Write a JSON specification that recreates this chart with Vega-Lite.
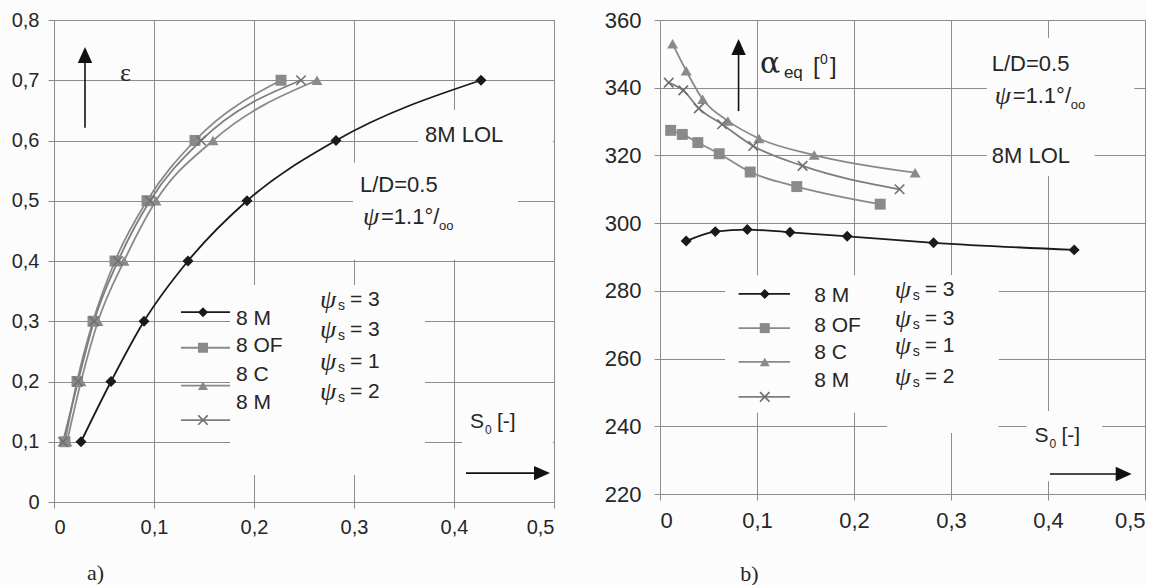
{
  "$schema": "https://vega.github.io/schema/vega-lite/v6.json",
  "background": "#fcfcfc",
  "padding": {"left": 10, "top": 8, "right": 0, "bottom": 0},
  "bounds": "flush",
  "spacing": 106,
  "config": {
    "view": {"stroke": "#8c8c8c", "strokeWidth": 1},
    "axis": {
      "grid": true, "gridColor": "#8c8c8c", "gridWidth": 1, "domain": false,
      "tickColor": "#8c8c8c", "tickSize": 6, "labelFont": "Liberation Sans", "labelColor": "#262626",
      "titleFont": "Liberation Serif", "titleFontWeight": "normal", "titleColor": "#262626", "titleFontSize": 22
    },
    "text": {"font": "Liberation Sans", "color": "#262626", "align": "left", "baseline": "middle"}
  },
  "datasets": {
    "curves": [
      {"series": "8 M ψs=3", "S0": 0.027, "eps": 0.1, "alpha": 294.7},
      {"series": "8 M ψs=3", "S0": 0.057, "eps": 0.2, "alpha": 297.5},
      {"series": "8 M ψs=3", "S0": 0.090, "eps": 0.3, "alpha": 298.1},
      {"series": "8 M ψs=3", "S0": 0.134, "eps": 0.4, "alpha": 297.3},
      {"series": "8 M ψs=3", "S0": 0.193, "eps": 0.5, "alpha": 296.1},
      {"series": "8 M ψs=3", "S0": 0.282, "eps": 0.6, "alpha": 294.2},
      {"series": "8 M ψs=3", "S0": 0.427, "eps": 0.7, "alpha": 292.1},
      {"series": "8 OF ψs=3", "S0": 0.011, "eps": 0.1, "alpha": 327.4},
      {"series": "8 OF ψs=3", "S0": 0.023, "eps": 0.2, "alpha": 326.2},
      {"series": "8 OF ψs=3", "S0": 0.039, "eps": 0.3, "alpha": 323.8},
      {"series": "8 OF ψs=3", "S0": 0.061, "eps": 0.4, "alpha": 320.5},
      {"series": "8 OF ψs=3", "S0": 0.093, "eps": 0.5, "alpha": 315.1},
      {"series": "8 OF ψs=3", "S0": 0.141, "eps": 0.6, "alpha": 310.8},
      {"series": "8 OF ψs=3", "S0": 0.227, "eps": 0.7, "alpha": 305.6},
      {"series": "8 C ψs=1", "S0": 0.013, "eps": 0.1, "alpha": 353.0},
      {"series": "8 C ψs=1", "S0": 0.027, "eps": 0.2, "alpha": 345.0},
      {"series": "8 C ψs=1", "S0": 0.044, "eps": 0.3, "alpha": 336.6},
      {"series": "8 C ψs=1", "S0": 0.070, "eps": 0.4, "alpha": 330.2},
      {"series": "8 C ψs=1", "S0": 0.102, "eps": 0.5, "alpha": 325.0},
      {"series": "8 C ψs=1", "S0": 0.159, "eps": 0.6, "alpha": 320.1},
      {"series": "8 C ψs=1", "S0": 0.263, "eps": 0.7, "alpha": 314.9},
      {"series": "8 M ψs=2", "S0": 0.009, "eps": 0.1, "alpha": 341.5},
      {"series": "8 M ψs=2", "S0": 0.024, "eps": 0.2, "alpha": 339.2},
      {"series": "8 M ψs=2", "S0": 0.040, "eps": 0.3, "alpha": 333.9},
      {"series": "8 M ψs=2", "S0": 0.064, "eps": 0.4, "alpha": 329.2},
      {"series": "8 M ψs=2", "S0": 0.096, "eps": 0.5, "alpha": 322.8},
      {"series": "8 M ψs=2", "S0": 0.147, "eps": 0.6, "alpha": 316.9},
      {"series": "8 M ψs=2", "S0": 0.247, "eps": 0.7, "alpha": 310.0}
    ],
    "legendA": [
      {"series": "8 M ψs=3", "name": "8 M", "psi": "= 3", "x0": 0.127, "x1": 0.176, "xs": 0.149, "y": 0.315, "ly": 0.304, "py": 0.335},
      {"series": "8 OF ψs=3", "name": "8 OF", "psi": "= 3", "x0": 0.127, "x1": 0.176, "xs": 0.149, "y": 0.256, "ly": 0.259, "py": 0.285},
      {"series": "8 C ψs=1", "name": "8 C", "psi": "= 1", "x0": 0.127, "x1": 0.176, "xs": 0.149, "y": 0.193, "ly": 0.211, "py": 0.232},
      {"series": "8 M ψs=2", "name": "8 M", "psi": "= 2", "x0": 0.127, "x1": 0.176, "xs": 0.149, "y": 0.136, "ly": 0.164, "py": 0.183}
    ],
    "legendB": [
      {"series": "8 M ψs=3", "name": "8 M", "psi": "= 3", "x0": 0.081, "x1": 0.134, "xs": 0.108, "y": 279.1, "ly": 278.5, "py": 280.3},
      {"series": "8 OF ψs=3", "name": "8 OF", "psi": "= 3", "x0": 0.081, "x1": 0.134, "xs": 0.108, "y": 269.0, "ly": 269.6, "py": 271.7},
      {"series": "8 C ψs=1", "name": "8 C", "psi": "= 1", "x0": 0.081, "x1": 0.134, "xs": 0.108, "y": 259.0, "ly": 261.7, "py": 263.7},
      {"series": "8 M ψs=2", "name": "8 M", "psi": "= 2", "x0": 0.081, "x1": 0.134, "xs": 0.108, "y": 248.7, "ly": 253.4, "py": 254.6}
    ],
    "boxesA": [
      {"x0": 0.176, "x1": 0.371, "y0": 0.360, "y1": 0.045},
      {"x0": 0.364, "x1": 0.499, "y0": 0.651, "y1": 0.559},
      {"x0": 0.299, "x1": 0.464, "y0": 0.563, "y1": 0.402},
      {"x0": 0.408, "x1": 0.499, "y0": 0.169, "y1": 0.020}
    ],
    "boxesB": [
      {"x0": 0.067, "x1": 0.349, "y0": 284.6, "y1": 244.0},
      {"x0": 0.234, "x1": 0.349, "y0": 284.6, "y1": 238.0},
      {"x0": 0.337, "x1": 0.489, "y0": 354.7, "y1": 333.0},
      {"x0": 0.337, "x1": 0.448, "y0": 333.0, "y1": 313.9},
      {"x0": 0.378, "x1": 0.456, "y0": 244.5, "y1": 223.8}
    ]
  },
  "hconcat": [
    {
      "width": 500,
      "height": 482,
      "data": {"values": [{}]},
      "layer": [
        {
          "data": {"name": "boxesA"},
          "mark": {"type": "rect", "fill": "#fcfcfc", "strokeWidth": 0},
          "encoding": {
            "x": {"field": "x0", "type": "quantitative", "scale": {"domain": [0, 0.5], "nice": false},
                  "axis": {"values": [0, 0.1, 0.2, 0.3, 0.4, 0.5], "labelFontSize": 20, "labelPadding": 9,
                           "labelExpr": "datum.value == 0 ? '0' : replace(format(datum.value, '.1f'), '.', ',')",
                           "title": "a)", "titleX": 41, "titleY": 70, "titleAlign": "center", "titleBaseline": "middle"}},
            "x2": {"field": "x1"},
            "y": {"field": "y0", "type": "quantitative", "scale": {"domain": [0, 0.8], "nice": false},
                  "axis": {"values": [0, 0.1, 0.2, 0.3, 0.4, 0.5, 0.6, 0.7, 0.8], "labelFontSize": 20, "labelPadding": 9,
                           "labelExpr": "datum.value == 0 ? '0' : replace(format(datum.value, '.1f'), '.', ',')",
                           "title": null}},
            "y2": {"field": "y1"}
          }
        },
        {
          "data": {"name": "curves"},
          "mark": {"type": "line", "interpolate": "monotone", "strokeWidth": 1.8},
          "encoding": {
            "x": {"field": "S0", "type": "quantitative"},
            "y": {"field": "eps", "type": "quantitative"},
            "color": {"field": "series", "type": "nominal", "legend": null,
                      "scale": {"domain": ["8 M ψs=3", "8 OF ψs=3", "8 C ψs=1", "8 M ψs=2"], "range": ["#1a1a1a", "#8a8a8a", "#8a8a8a", "#7d7d7d"]}},
            "order": {"field": "eps", "type": "quantitative"}
          }
        },
        {
          "data": {"name": "legendA"},
          "mark": {"type": "rule", "strokeWidth": 1.8},
          "encoding": {
            "x": {"field": "x0", "type": "quantitative"},
            "x2": {"field": "x1"},
            "y": {"field": "y", "type": "quantitative"},
            "color": {"field": "series", "type": "nominal", "legend": null}
          }
        },
        {
          "data": {"name": "curves"},
          "transform": [{"filter": "datum.series != '8 M ψs=2'"}],
          "mark": {"type": "point", "filled": true, "size": 120, "opacity": 1},
          "encoding": {
            "x": {"field": "S0", "type": "quantitative"},
            "y": {"field": "eps", "type": "quantitative"},
            "color": {"field": "series", "type": "nominal", "legend": null},
            "shape": {"field": "series", "type": "nominal", "legend": null,
                      "scale": {"domain": ["8 M ψs=3", "8 OF ψs=3", "8 C ψs=1", "8 M ψs=2"], "range": ["diamond", "square", "triangle-up", "M-1,-1L1,1M-1,1L1,-1"]}}
          }
        },
        {
          "data": {"name": "curves"},
          "transform": [{"filter": "datum.series == '8 M ψs=2'"}],
          "mark": {"type": "point", "filled": false, "size": 90, "strokeWidth": 1.6, "opacity": 1, "shape": "M-1,-1L1,1M-1,1L1,-1", "color": "#6f6f6f"},
          "encoding": {
            "x": {"field": "S0", "type": "quantitative"},
            "y": {"field": "eps", "type": "quantitative"}
          }
        },
        {
          "data": {"name": "legendA"},
          "transform": [{"filter": "datum.series != '8 M ψs=2'"}],
          "mark": {"type": "point", "filled": true, "size": 100, "opacity": 1},
          "encoding": {
            "x": {"field": "xs", "type": "quantitative"},
            "y": {"field": "y", "type": "quantitative"},
            "color": {"field": "series", "type": "nominal", "legend": null},
            "shape": {"field": "series", "type": "nominal", "legend": null}
          }
        },
        {
          "data": {"name": "legendA"},
          "transform": [{"filter": "datum.series == '8 M ψs=2'"}],
          "mark": {"type": "point", "filled": false, "size": 90, "strokeWidth": 1.6, "opacity": 1, "shape": "M-1,-1L1,1M-1,1L1,-1", "color": "#6f6f6f"},
          "encoding": {
            "x": {"field": "xs", "type": "quantitative"},
            "y": {"field": "y", "type": "quantitative"}
          }
        },
        {
          "data": {"name": "legendA"},
          "mark": {"type": "text", "fontSize": 21},
          "encoding": {
            "x": {"datum": 0.182},
            "y": {"field": "ly", "type": "quantitative"},
            "text": {"field": "name"}
          }
        },
        {
          "data": {"name": "legendA"},
          "mark": {"type": "text", "text": "ψ", "font": "Liberation Serif", "fontStyle": "italic", "fontSize": 26},
          "encoding": {"x": {"datum": 0.266}, "y": {"field": "py", "type": "quantitative"}}
        },
        {
          "data": {"name": "legendA"},
          "mark": {"type": "text", "text": "s", "fontSize": 14, "dx": 18, "dy": 6},
          "encoding": {"x": {"datum": 0.266}, "y": {"field": "py", "type": "quantitative"}}
        },
        {
          "data": {"name": "legendA"},
          "mark": {"type": "text", "fontSize": 21, "dx": 30},
          "encoding": {"x": {"datum": 0.266}, "y": {"field": "py", "type": "quantitative"}, "text": {"field": "psi"}}
        },
        {
          "mark": {"type": "text", "text": "8M LOL", "fontSize": 22},
          "encoding": {"x": {"datum": 0.371}, "y": {"datum": 0.609}}
        },
        {
          "mark": {"type": "text", "text": "L/D=0.5", "fontSize": 22},
          "encoding": {"x": {"datum": 0.306}, "y": {"datum": 0.526}}
        },
        {
          "mark": {"type": "text", "text": "ψ", "font": "Liberation Serif", "fontStyle": "italic", "fontSize": 26},
          "encoding": {"x": {"datum": 0.309}, "y": {"datum": 0.473}}
        },
        {
          "mark": {"type": "text", "text": "=1.1°/", "fontSize": 22, "dx": 18},
          "encoding": {"x": {"datum": 0.309}, "y": {"datum": 0.473}}
        },
        {
          "mark": {"type": "text", "text": "oo", "fontSize": 13, "dx": 76, "dy": 9},
          "encoding": {"x": {"datum": 0.309}, "y": {"datum": 0.473}}
        },
        {
          "mark": {"type": "text", "text": "ε", "font": "Liberation Serif", "fontSize": 26},
          "encoding": {"x": {"datum": 0.066}, "y": {"datum": 0.712}}
        },
        {
          "mark": {"type": "rule", "color": "#111", "strokeWidth": 1.6},
          "encoding": {"x": {"datum": 0.031}, "y": {"datum": 0.621}, "y2": {"datum": 0.742}}
        },
        {
          "mark": {"type": "point", "shape": "M0,-1L0.9,1L-0.9,1Z", "filled": true, "size": 256, "color": "#111", "opacity": 1},
          "encoding": {"x": {"datum": 0.031}, "y": {"datum": 0.742}}
        },
        {
          "mark": {"type": "rule", "color": "#111", "strokeWidth": 1.6},
          "encoding": {"x": {"datum": 0.412}, "x2": {"datum": 0.488}, "y": {"datum": 0.048}}
        },
        {
          "mark": {"type": "point", "shape": "M1,0L-1,0.9L-1,-0.9Z", "filled": true, "size": 256, "color": "#111", "opacity": 1},
          "encoding": {"x": {"datum": 0.488}, "y": {"datum": 0.048}}
        },
        {
          "mark": {"type": "text", "text": "S", "fontSize": 21},
          "encoding": {"x": {"datum": 0.416}, "y": {"datum": 0.133}}
        },
        {
          "mark": {"type": "text", "text": "0", "fontSize": 12, "dx": 15, "dy": 8},
          "encoding": {"x": {"datum": 0.416}, "y": {"datum": 0.133}}
        },
        {
          "mark": {"type": "text", "text": "[-]", "fontSize": 21, "dx": 27},
          "encoding": {"x": {"datum": 0.416}, "y": {"datum": 0.133}}
        }
      ]
    },
    {
      "width": 485,
      "height": 474,
      "data": {"values": [{}]},
      "layer": [
        {
          "data": {"name": "boxesB"},
          "mark": {"type": "rect", "fill": "#fcfcfc", "strokeWidth": 0},
          "encoding": {
            "x": {"field": "x0", "type": "quantitative", "scale": {"domain": [0, 0.5], "nice": false},
                  "axis": {"values": [0, 0.1, 0.2, 0.3, 0.4, 0.5], "labelFontSize": 22, "labelPadding": 10,
                           "labelExpr": "datum.value == 0 ? '0' : replace(format(datum.value, '.1f'), '.', ',')",
                           "title": "b)", "titleX": 89, "titleY": 79, "titleAlign": "center", "titleBaseline": "middle"}},
            "x2": {"field": "x1"},
            "y": {"field": "y0", "type": "quantitative", "scale": {"domain": [220, 360], "nice": false, "zero": false},
                  "axis": {"values": [220, 240, 260, 280, 300, 320, 340, 360], "labelFontSize": 22, "labelPadding": 13, "title": null}},
            "y2": {"field": "y1"}
          }
        },
        {
          "data": {"name": "curves"},
          "mark": {"type": "line", "interpolate": "monotone", "strokeWidth": 1.8},
          "encoding": {
            "x": {"field": "S0", "type": "quantitative"},
            "y": {"field": "alpha", "type": "quantitative"},
            "color": {"field": "series", "type": "nominal", "legend": null,
                      "scale": {"domain": ["8 M ψs=3", "8 OF ψs=3", "8 C ψs=1", "8 M ψs=2"], "range": ["#1a1a1a", "#8a8a8a", "#8a8a8a", "#7d7d7d"]}},
            "order": {"field": "S0", "type": "quantitative"}
          }
        },
        {
          "data": {"name": "legendB"},
          "mark": {"type": "rule", "strokeWidth": 1.8},
          "encoding": {
            "x": {"field": "x0", "type": "quantitative"},
            "x2": {"field": "x1"},
            "y": {"field": "y", "type": "quantitative"},
            "color": {"field": "series", "type": "nominal", "legend": null}
          }
        },
        {
          "data": {"name": "curves"},
          "transform": [{"filter": "datum.series != '8 M ψs=2'"}],
          "mark": {"type": "point", "filled": true, "size": 120, "opacity": 1},
          "encoding": {
            "x": {"field": "S0", "type": "quantitative"},
            "y": {"field": "alpha", "type": "quantitative"},
            "color": {"field": "series", "type": "nominal", "legend": null},
            "shape": {"field": "series", "type": "nominal", "legend": null,
                      "scale": {"domain": ["8 M ψs=3", "8 OF ψs=3", "8 C ψs=1", "8 M ψs=2"], "range": ["diamond", "square", "triangle-up", "M-1,-1L1,1M-1,1L1,-1"]}}
          }
        },
        {
          "data": {"name": "curves"},
          "transform": [{"filter": "datum.series == '8 M ψs=2'"}],
          "mark": {"type": "point", "filled": false, "size": 90, "strokeWidth": 1.6, "opacity": 1, "shape": "M-1,-1L1,1M-1,1L1,-1", "color": "#6f6f6f"},
          "encoding": {
            "x": {"field": "S0", "type": "quantitative"},
            "y": {"field": "alpha", "type": "quantitative"}
          }
        },
        {
          "data": {"name": "legendB"},
          "transform": [{"filter": "datum.series != '8 M ψs=2'"}],
          "mark": {"type": "point", "filled": true, "size": 100, "opacity": 1},
          "encoding": {
            "x": {"field": "xs", "type": "quantitative"},
            "y": {"field": "y", "type": "quantitative"},
            "color": {"field": "series", "type": "nominal", "legend": null},
            "shape": {"field": "series", "type": "nominal", "legend": null}
          }
        },
        {
          "data": {"name": "legendB"},
          "transform": [{"filter": "datum.series == '8 M ψs=2'"}],
          "mark": {"type": "point", "filled": false, "size": 90, "strokeWidth": 1.6, "opacity": 1, "shape": "M-1,-1L1,1M-1,1L1,-1", "color": "#6f6f6f"},
          "encoding": {
            "x": {"field": "xs", "type": "quantitative"},
            "y": {"field": "y", "type": "quantitative"}
          }
        },
        {
          "data": {"name": "legendB"},
          "mark": {"type": "text", "fontSize": 21},
          "encoding": {
            "x": {"datum": 0.159},
            "y": {"field": "ly", "type": "quantitative"},
            "text": {"field": "name"}
          }
        },
        {
          "data": {"name": "legendB"},
          "mark": {"type": "text", "text": "ψ", "font": "Liberation Serif", "fontStyle": "italic", "fontSize": 26},
          "encoding": {"x": {"datum": 0.242}, "y": {"field": "py", "type": "quantitative"}}
        },
        {
          "data": {"name": "legendB"},
          "mark": {"type": "text", "text": "s", "fontSize": 14, "dx": 18, "dy": 6},
          "encoding": {"x": {"datum": 0.242}, "y": {"field": "py", "type": "quantitative"}}
        },
        {
          "data": {"name": "legendB"},
          "mark": {"type": "text", "fontSize": 21, "dx": 30},
          "encoding": {"x": {"datum": 0.242}, "y": {"field": "py", "type": "quantitative"}, "text": {"field": "psi"}}
        },
        {
          "mark": {"type": "text", "text": "L/D=0.5", "fontSize": 22},
          "encoding": {"x": {"datum": 0.342}, "y": {"datum": 347.0}}
        },
        {
          "mark": {"type": "text", "text": "ψ", "font": "Liberation Serif", "fontStyle": "italic", "fontSize": 26},
          "encoding": {"x": {"datum": 0.345}, "y": {"datum": 337.6}}
        },
        {
          "mark": {"type": "text", "text": "=1.1°/", "fontSize": 22, "dx": 18},
          "encoding": {"x": {"datum": 0.345}, "y": {"datum": 337.6}}
        },
        {
          "mark": {"type": "text", "text": "oo", "fontSize": 13, "dx": 76, "dy": 9},
          "encoding": {"x": {"datum": 0.345}, "y": {"datum": 337.6}}
        },
        {
          "mark": {"type": "text", "text": "8M LOL", "fontSize": 22},
          "encoding": {"x": {"datum": 0.342}, "y": {"datum": 319.8}}
        },
        {
          "mark": {"type": "text", "text": "α", "font": "DejaVu Serif", "fontSize": 30},
          "encoding": {"x": {"datum": 0.103}, "y": {"datum": 347.0}}
        },
        {
          "mark": {"type": "text", "text": "eq", "fontSize": 17, "dx": 24, "dy": 9},
          "encoding": {"x": {"datum": 0.103}, "y": {"datum": 347.0}}
        },
        {
          "mark": {"type": "text", "text": "[", "fontSize": 24, "dx": 53},
          "encoding": {"x": {"datum": 0.103}, "y": {"datum": 346.1}}
        },
        {
          "mark": {"type": "text", "text": "0", "fontSize": 14, "dx": 60, "dy": -7},
          "encoding": {"x": {"datum": 0.103}, "y": {"datum": 346.1}}
        },
        {
          "mark": {"type": "text", "text": "]", "fontSize": 24, "dx": 70},
          "encoding": {"x": {"datum": 0.103}, "y": {"datum": 346.1}}
        },
        {
          "mark": {"type": "rule", "color": "#111", "strokeWidth": 1.6},
          "encoding": {"x": {"datum": 0.081}, "y": {"datum": 333.1}, "y2": {"datum": 352.0}}
        },
        {
          "mark": {"type": "point", "shape": "M0,-1L0.9,1L-0.9,1Z", "filled": true, "size": 256, "color": "#111", "opacity": 1},
          "encoding": {"x": {"datum": 0.081}, "y": {"datum": 352.0}}
        },
        {
          "mark": {"type": "rule", "color": "#111", "strokeWidth": 1.6},
          "encoding": {"x": {"datum": 0.402}, "x2": {"datum": 0.478}, "y": {"datum": 225.9}}
        },
        {
          "mark": {"type": "point", "shape": "M1,0L-1,0.9L-1,-0.9Z", "filled": true, "size": 256, "color": "#111", "opacity": 1},
          "encoding": {"x": {"datum": 0.478}, "y": {"datum": 225.9}}
        },
        {
          "mark": {"type": "text", "text": "S", "fontSize": 21},
          "encoding": {"x": {"datum": 0.386}, "y": {"datum": 237.1}}
        },
        {
          "mark": {"type": "text", "text": "0", "fontSize": 12, "dx": 15, "dy": 8},
          "encoding": {"x": {"datum": 0.386}, "y": {"datum": 237.1}}
        },
        {
          "mark": {"type": "text", "text": "[-]", "fontSize": 21, "dx": 27},
          "encoding": {"x": {"datum": 0.386}, "y": {"datum": 237.1}}
        }
      ]
    }
  ]
}
